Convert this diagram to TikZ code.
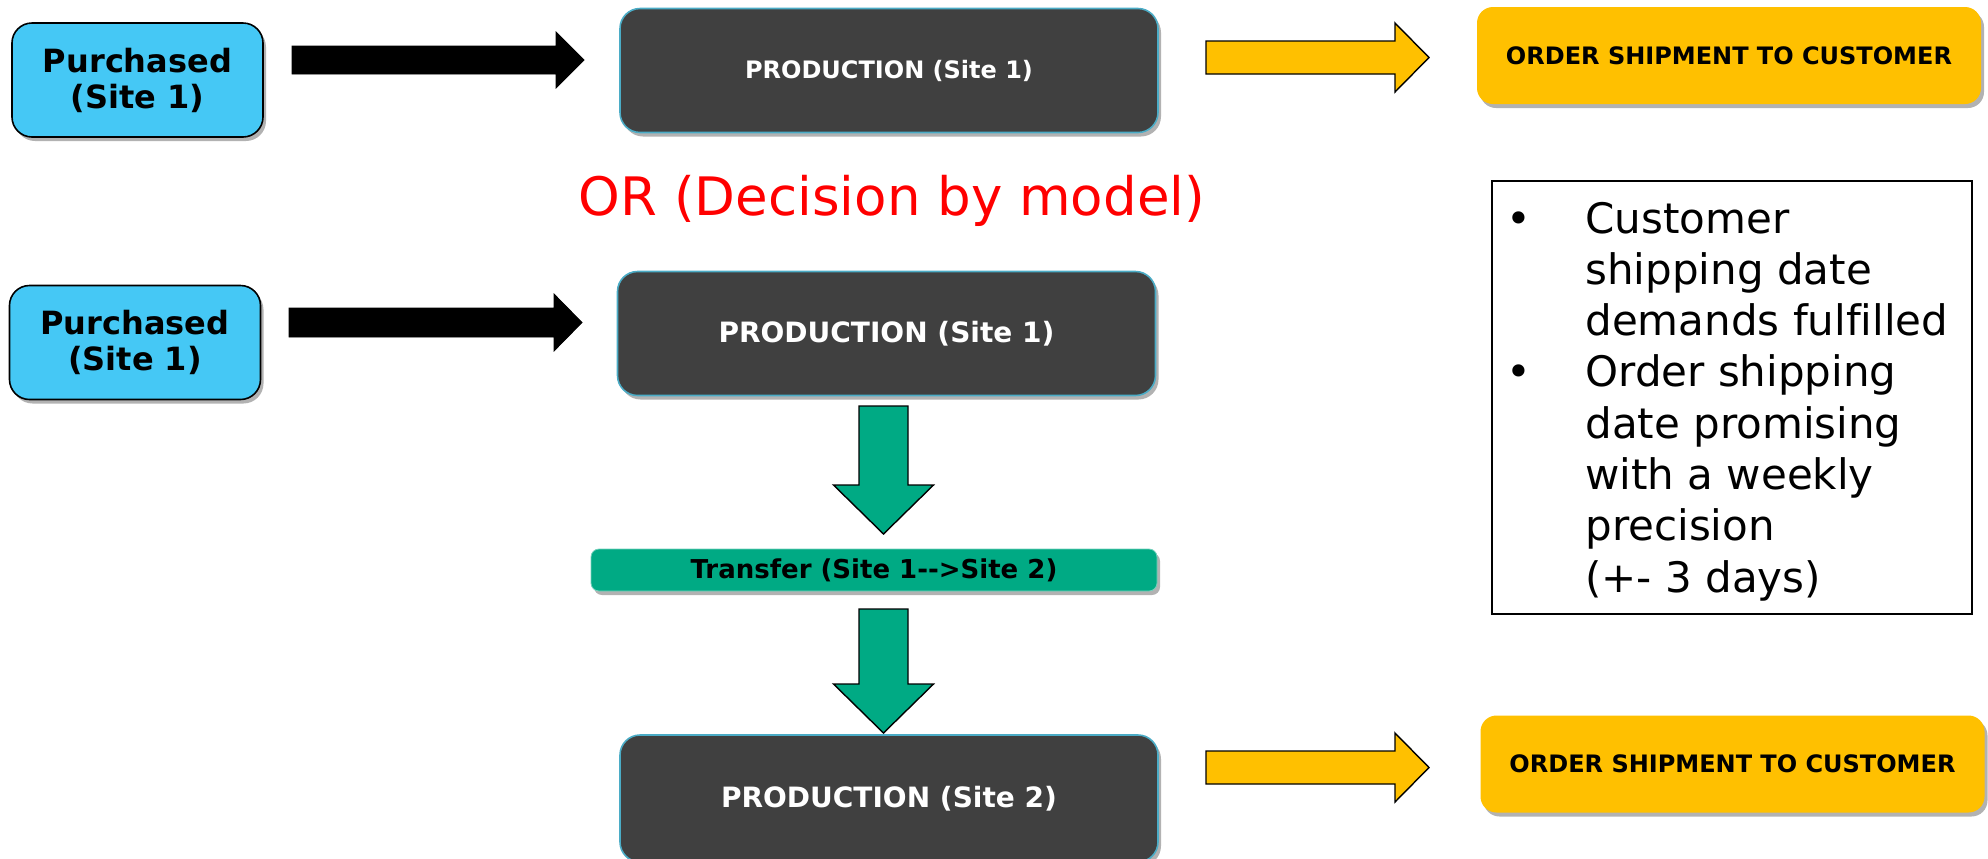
\documentclass[tikz,border=0pt]{standalone}
\usepackage{fontspec}
\setmainfont{DejaVu Sans}[Ligatures={TeXOff,CommonOff}]
\usetikzlibrary{shadows}

\definecolor{skyblue}{RGB}{69,200,245}
\definecolor{darkgrey}{RGB}{64,64,64}
\definecolor{tealedge}{RGB}{75,172,198}
\definecolor{amber}{RGB}{255,192,0}
\definecolor{jade}{RGB}{0,170,132}

\tikzset{
  softshadow/.style={drop shadow={shadow xshift=1.5pt, shadow yshift=-2pt, opacity=0.3, fill=black}},
  purchased/.style={draw=black, line width=0.8pt, fill=skyblue, rounded corners=10pt,
    minimum width=125.5pt, minimum height=57pt, align=center,
    font=\bfseries\fontsize{16}{18}\selectfont, softshadow},
  production/.style={draw=tealedge, line width=0.8pt, fill=darkgrey, text=white, rounded corners=10pt,
    minimum width=269pt, minimum height=62pt, font=\bfseries\fontsize{14}{16}\selectfont, softshadow},
  shipment/.style={fill=amber, rounded corners=8pt, minimum width=252pt, minimum height=48.5pt,
    font=\bfseries\fontsize{12}{14}\selectfont, softshadow},
  transfer/.style={fill=jade, draw=jade!55!white, line width=0.4pt, rounded corners=4pt,
    minimum width=283pt, minimum height=21pt, font=\bfseries\fontsize{13}{15}\selectfont, softshadow},
  notebox/.style={draw=black, line width=0.6pt, minimum width=240pt, minimum height=216.5pt},
  notetext/.style={font=\fontsize{21}{25}\selectfont, inner sep=0pt},
  blackarrow/.style={fill=black},
  amberarrow/.style={fill=amber, draw=black, line width=0.7pt},
  jadearrow/.style={fill=jade, draw=black, line width=0.7pt}
}

\begin{document}
\begin{tikzpicture}[x=0.5pt, y=-0.5pt]
  \useasboundingbox (0,0) rectangle (1988,858);

  % first route: everything at site 1
  \node[purchased] (buy1) at (137.5,80) {Purchased\\(Site 1)};
  \node[production, font=\bfseries\fontsize{12}{14}\selectfont] (make1) at (889,70.5) {PRODUCTION (Site 1)};
  \node[shipment] (ship1) at (1729,55.5) {ORDER SHIPMENT TO CUSTOMER};

  \node[text=red, font=\fontsize{26.5}{30}\selectfont, anchor=base] (choice) at (892,215) {OR (Decision by model)};

  % second route: produce at site 1, transfer, finish at site 2
  \node[purchased] (buy2) at (135,342.5) {Purchased\\(Site 1)};
  \node[production] (make2) at (886.5,333.5) {PRODUCTION (Site 1)};
  \node[transfer] (move) at (874,570) {Transfer (Site 1-->Site 2)};
  \node[production, minimum height=63.5pt] (make3) at (889,798.5) {PRODUCTION (Site 2)};
  \node[shipment] (ship2) at (1732.5,764) {ORDER SHIPMENT TO CUSTOMER};

  % horizontal block arrows: x / y / length / shaft / head / head length / style
  \foreach \x/\y/\len/\s/\h/\l/\st in {292/60/292/14/28/28/blackarrow, 289/322.5/293/14.5/28.5/28/blackarrow,
      1206/57.5/223/16.5/34.5/34/amberarrow, 1206/767.5/223/16.5/34.5/34/amberarrow}
    \draw[\st, shift={(\x,\y)}] (0,-\s) -- (\len-\l,-\s) -- (\len-\l,-\h) -- (\len,0)
      -- (\len-\l,\h) -- (\len-\l,\s) -- (0,\s) -- cycle;

  % downward block arrows
  \foreach \y/\len in {406/128, 609/124}
    \draw[jadearrow, shift={(883.5,\y)}] (-24.5,0) -- (24.5,0) -- (24.5,\len-49) -- (50,\len-49)
      -- (0,\len) -- (-50,\len-49) -- (-24.5,\len-49) -- cycle;

  % notes
  \node[notebox] (notes) at (1732,397.5) {};
  \foreach \line [count=\i from 0] in {Customer, shipping date, demands fulfilled, Order shipping,
      date promising, with a weekly, precision, (+- 3 days)}
    \node[notetext, anchor=base west] (note\i) at (1585,233+51.3*\i) {\line};
  \foreach \i in {0,3}
    \node[notetext, anchor=base] (dot\i) at (1519,233+51.3*\i) {\textbullet};

\end{tikzpicture}
\end{document}
